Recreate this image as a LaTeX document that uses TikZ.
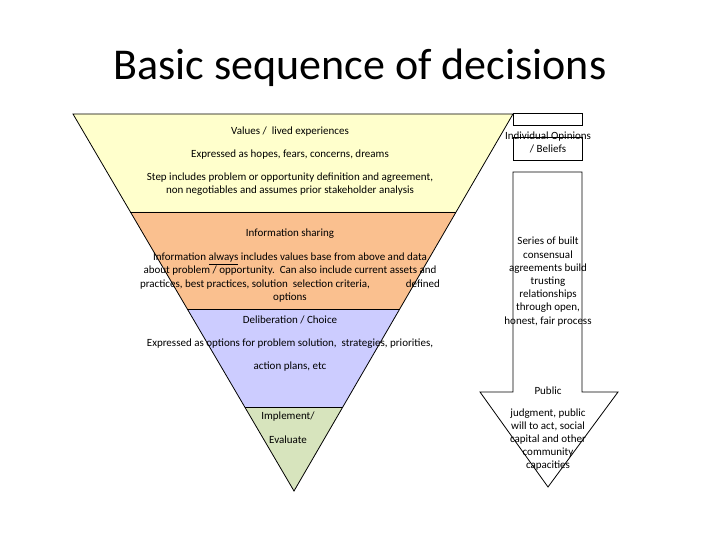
\documentclass[tikz,border=0pt]{standalone}
\usepackage{fontspec}
\setmainfont{Carlito}
\begin{document}
\begin{tikzpicture}[x=1pt,y=-1pt,
  layer/.style={draw=black,line width=0.8pt},
  lbl/.style={inner sep=0pt,align=center,yshift=-1.5pt,font=\fontsize{11}{13.2}\selectfont},
  box/.style={draw=black,line width=0.8pt,fill=white}]
\definecolor{cyel}{HTML}{FFFFCC}
\definecolor{corg}{HTML}{FAC08F}
\definecolor{cpur}{HTML}{CCCCFF}
\definecolor{cgrn}{HTML}{D7E4BD}
\useasboundingbox[fill=white] (0,0) rectangle (720,540);
% funnel corners
\coordinate (tl) at (73,114);
\coordinate (tr) at (513,114);
\coordinate (l1) at (130.4,212);
\coordinate (r1) at (456.1,212);
\coordinate (l2) at (187.3,309);
\coordinate (r2) at (399.7,309);
\coordinate (l3) at (244.8,407);
\coordinate (r3) at (342.8,407);
\coordinate (tip) at (294,491);
\fill[cyel] (tl) -- (tr) -- (r1) -- (l1) -- cycle;
\fill[corg] (l1) -- (r1) -- (r2) -- (l2) -- cycle;
\fill[cpur] (l2) -- (r2) -- (r3) -- (l3) -- cycle;
\fill[cgrn] (l3) -- (r3) -- (tip) -- cycle;
\draw[layer] (tl) -- (tr) -- (tip) -- cycle;
\draw[layer] (l1) -- (r1);
\draw[layer] (l2) -- (r2);
\draw[layer] (l3) -- (r3);
% right arrow
\draw[box] (513,113) rectangle (582,125);
\draw[box] (513,137) rectangle (582,160);
\draw[box] (513,172) -- (582,172) -- (582,392) -- (618,392) -- (548,487) -- (480,392) -- (513,392) -- cycle;
% title
\node[inner sep=0pt,font=\fontsize{44}{52}\selectfont] (title) at (360,68) {Basic sequence of decisions};
% funnel texts
\node[lbl] (values) at (290,130) {Values /\ \ lived experiences};
\node[lbl] (hopes) at (290,153) {Expressed as hopes, fears, concerns, dreams};
\node[lbl] (step) at (290,183) {Step includes problem or opportunity definition and agreement,\\non negotiables and assumes prior stakeholder analysis};
\node[lbl] (info) at (290,232) {Information sharing};
\node[lbl] (infotext) at (290,276) {Information \underline{always} includes values base from above and data\\about problem / opportunity.\ \ Can also include current assets and\\practices, best practices, solution\ \ selection criteria,\hspace{36pt}defined\\options};
\node[lbl] (delib) at (290,318) {Deliberation / Choice};
\node[lbl] (options) at (290,342) {Expressed as options for problem solution,\ \ strategies, priorities,};
\node[lbl] (action) at (290,365) {action plans, etc};
\node[lbl] (impl) at (288,415) {Implement/};
\node[lbl] (eval) at (288,438) {Evaluate};
% arrow texts
\node[lbl] (indiv) at (548,141) {Individual Opinions\\/ Beliefs};
\node[lbl] (series) at (548,280) {Series of built\\consensual\\agreements build\\trusting\\relationships\\through open,\\honest, fair process};
\node[lbl] (public) at (548,389) {Public};
\node[lbl] (judg) at (548,438) {judgment, public\\will to act, social\\capital and other\\community\\capacities};
\end{tikzpicture}
\end{document}
